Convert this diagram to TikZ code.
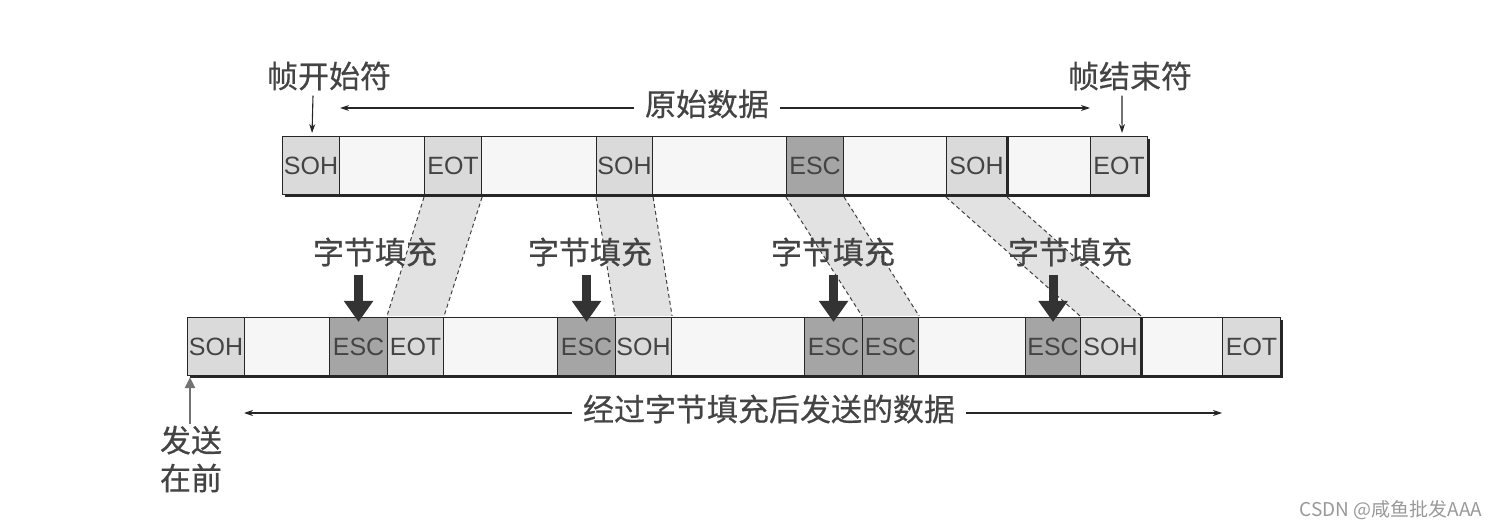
\documentclass[tikz,border=0pt]{standalone}
\usepackage{fontspec}
\setmainfont{Liberation Sans}
\newfontfamily\cjk[FakeBold=0.5]{Noto Sans CJK SC}
\newfontfamily\cjklight{Noto Sans CJK SC}
\usetikzlibrary{arrows.meta}
\definecolor{txtgray}{RGB}{68,68,68}
\definecolor{litecell}{RGB}{218,218,218}
\definecolor{darkcell}{RGB}{165,165,165}
\definecolor{blankcell}{RGB}{246,246,246}
\definecolor{trapfill}{RGB}{226,226,226}
\newcommand{\mkcell}[6]{\node[#2, minimum width={#4-#3}] (#1) at (#3,#5) {#6};}
\begin{document}
\begin{tikzpicture}[x=1pt,y=-1pt,
  cellbase/.style={draw=black!85, line width=1.1pt, anchor=north west, inner sep=0pt,
    minimum height=58pt, font=\fontsize{25}{25}\selectfont, text=txtgray},
  litebox/.style={cellbase, fill=litecell},
  darkbox/.style={cellbase, fill=darkcell},
  blankbox/.style={cellbase, fill=blankcell},
  cjklabel/.style={font=\cjk\fontsize{31}{38}\selectfont, text=txtgray, inner sep=2pt},
  thinarr/.style={draw=black!85, line width=1.1pt, -{Stealth[length=9pt,width=6pt]}},
  bigarr/.style={draw=black!80, line width=9pt, -{Triangle[length=21pt,width=28pt]}},
  traparea/.style={fill=trapfill},
  trapedge/.style={draw=black!75, line width=1pt, dash pattern=on 4pt off 3pt},
  shadowbox/.style={fill=black!85}
]
\useasboundingbox (0,0) rectangle (1497,529);

% shadows
\fill[shadowbox] (285,139) rectangle (1150,197);
\fill[shadowbox] (190,320) rectangle (1283,378);

% top row (original data)
\mkcell{tS1}{litebox}{282}{339}{136}{SOH}
\mkcell{tB1}{blankbox}{339}{424}{136}{}
\mkcell{tE1}{litebox}{424}{481}{136}{EOT}
\mkcell{tB2}{blankbox}{481}{596}{136}{}
\mkcell{tS2}{litebox}{596}{652}{136}{SOH}
\mkcell{tB3}{blankbox}{652}{786}{136}{}
\mkcell{tC1}{darkbox}{786}{843}{136}{ESC}
\mkcell{tB4}{blankbox}{843}{946}{136}{}
\mkcell{tS3}{litebox}{946}{1006}{136}{SOH}
\mkcell{tB5}{blankbox}{1006}{1090}{136}{}
\mkcell{tE2}{litebox}{1090}{1147}{136}{EOT}
\draw[line width=3pt, black!85] (tS3.north east) -- (tS3.south east);

% bottom row (stuffed data)
\mkcell{bS1}{litebox}{187}{244}{317}{SOH}
\mkcell{bB1}{blankbox}{244}{329}{317}{}
\mkcell{bC1}{darkbox}{329}{387}{317}{ESC}
\mkcell{bE1}{litebox}{387}{443}{317}{EOT}
\mkcell{bB2}{blankbox}{443}{557}{317}{}
\mkcell{bC2}{darkbox}{557}{615}{317}{ESC}
\mkcell{bS2}{litebox}{615}{671}{317}{SOH}
\mkcell{bB3}{blankbox}{671}{804}{317}{}
\mkcell{bC3}{darkbox}{804}{862}{317}{ESC}
\mkcell{bC4}{darkbox}{862}{918}{317}{ESC}
\mkcell{bB4}{blankbox}{918}{1025}{317}{}
\mkcell{bC5}{darkbox}{1025}{1080}{317}{ESC}
\mkcell{bS3}{litebox}{1080}{1140}{317}{SOH}
\mkcell{bB5}{blankbox}{1140}{1222}{317}{}
\mkcell{bE2}{litebox}{1222}{1280}{317}{EOT}
\draw[line width=3pt, black!85] (bS3.north east) -- (bS3.south east);

% mapping trapezoids
\foreach \t/\b in {tE1/bE1, tS2/bS2, tC1/bC4, tS3/bS3}{
  \fill[traparea] ([yshift=-2pt]\t.south west) -- ([yshift=-2pt]\t.south east) -- ([yshift=1pt]\b.north east) -- ([yshift=1pt]\b.north west) -- cycle;
  \draw[trapedge] ([yshift=-2pt]\t.south west) -- ([yshift=1pt]\b.north west);
  \draw[trapedge] ([yshift=-2pt]\t.south east) -- ([yshift=1pt]\b.north east);
}

% labels over the stuffing points
\node[cjklabel] (st1) at (375,252) {字节填充};
\node[cjklabel] (st2) at (590,252) {字节填充};
\node[cjklabel] (st3) at (833,252) {字节填充};
\node[cjklabel] (st4) at (1070,252) {字节填充};

% big arrows into inserted ESC bytes
\foreach \c in {bC1,bC2,bC3,bC5}{
  \draw[bigarr] ([yshift=42pt]\c.north) -- ([yshift=-5pt]\c.north);
}

% top labels
\node[cjklabel] (fs) at (329,76) {帧开始符};
\node[cjklabel] (fe) at (1130,76) {帧结束符};
\node[cjklabel, inner xsep=11pt] (yd) at (707,104) {原始数据};
\draw[thinarr] ([xshift=-16pt,yshift=-3pt]fs.south) -- ([xshift=1pt,yshift=3pt]tS1.north);
\draw[thinarr] ([xshift=-8pt,yshift=-3pt]fe.south) -- ([xshift=3pt,yshift=3pt]tE2.north);
\draw[thinarr] ([yshift=-4pt]yd.west) -- ([yshift=-4pt]yd.west -| tS1.east);
\draw[thinarr] ([yshift=-4pt]yd.east) -- ([yshift=-4pt]yd.east -| tE2.west);

% bottom labels
\node[cjklabel, inner xsep=11pt] (sd) at (769,409) {经过字节填充后发送的数据};
\draw[thinarr] ([yshift=-4pt]sd.west) -- ([yshift=-4pt]sd.west -| bB1.west);
\draw[thinarr] ([yshift=-4pt]sd.east) -- ([yshift=-4pt]sd.east -| bE2.west);
\node[cjklabel, align=center] (fq) at (191,459) {发送\\在前};
\draw[draw=black!55, line width=2.5pt, -{Triangle[length=11pt,width=10pt]}] (fq.north -| bS1.south west) ++(3,0) -- ([xshift=3pt,yshift=-1pt]bS1.south west);

% watermark
\node[font=\cjklight\fontsize{19}{19}\selectfont, text=black!40, inner sep=0pt] (wm) at (1391,510) {CSDN @咸鱼批发AAA};
\end{tikzpicture}
\end{document}
